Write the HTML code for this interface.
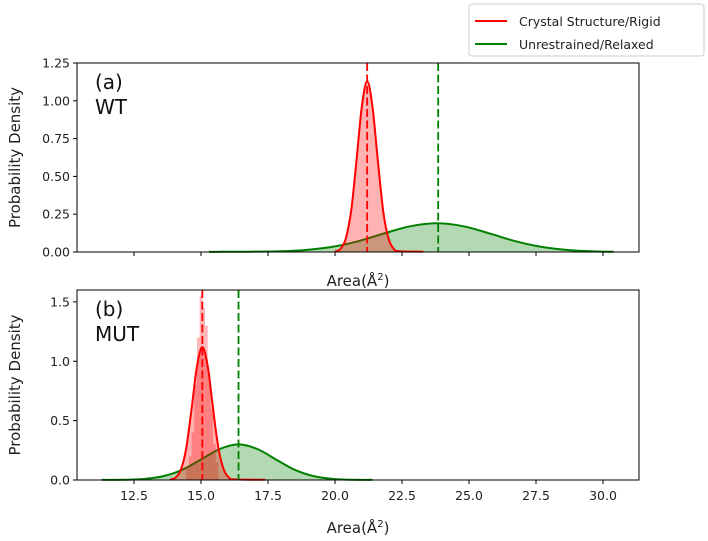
<!DOCTYPE html>
<html><head><meta charset="utf-8"><style>
body{margin:0;background:#fff;}
svg{display:block;font-family:"DejaVu Sans","Liberation Sans",sans-serif;}
</style></head><body>
<svg id="chart" width="708" height="541" viewBox="0 0 708 541"></svg>
<script>
// ---- data ----
const wtRedX = [20.0,20.2,20.4,20.6,20.8,21.0,21.2,21.4,21.6,21.8,22.0,22.2,22.4,23.3];
const wtRedY = [0.003,0.02,0.087,0.27,0.6,0.96,1.13,0.96,0.6,0.27,0.087,0.02,0.005,0.002];
const wtGreenX = [15.3,15.8,16.8,17.8,18.8,19.8,20.8,21.8,22.8,23.8,24.8,25.8,26.8,27.8,28.8,29.8,30.4];
const wtGreenY = [0.001,0.001,0.002,0.004,0.012,0.031,0.068,0.121,0.170,0.19,0.17,0.121,0.068,0.031,0.011,0.003,0.001];
const wtMeans = [21.2, 23.85];
const mutRedX = [13.85,14.05,14.25,14.45,14.65,14.85,15.05,15.25,15.45,15.65,15.85,16.05,16.25,17.4];
const mutRedY = [0.003,0.02,0.087,0.27,0.6,0.96,1.12,0.96,0.6,0.27,0.087,0.02,0.005,0.002];
const mutGreenX = [11.3,12.2,12.9,13.6,14.3,15.0,15.7,16.4,17.1,17.8,18.5,19.2,19.9,20.6,21.4];
const mutGreenY = [0.001,0.002,0.009,0.033,0.086,0.173,0.261,0.30,0.261,0.173,0.086,0.033,0.009,0.002,0.001];
const mutMeans = [15.05, 16.4];
const mutHistX = [14.5,14.6,14.7,14.8,14.9,15.0,15.1,15.2,15.3,15.4,15.5,15.6];
const mutHistY = [0.1,0.2,0.4,0.8,1.2,1.55,1.45,1.3,0.9,0.6,0.3,0.15];
const xTicks = [12.5,15.0,17.5,20.0,22.5,25.0,27.5,30.0];
const xTickLabels = ["12.5","15.0","17.5","20.0","22.5","25.0","27.5","30.0"];
const wtYTicks = [0,0.25,0.5,0.75,1.0,1.25];
const wtYLabels = ["0.00","0.25","0.50","0.75","1.00","1.25"];
const mutYTicks = [0,0.5,1.0,1.5];
const mutYLabels = ["0.0","0.5","1.0","1.5"];

const NS="http://www.w3.org/2000/svg";
const svg=document.getElementById('chart');
function mk(tag,attrs,parent){const e=document.createElementNS(NS,tag);for(const k in attrs)e.setAttribute(k,attrs[k]);(parent||svg).appendChild(e);return e;}
const L=77,R=639;
const xs=v=>134+(v-12.5)*(603-134)/17.5;
function smooth(pts){
  let d='M'+pts[0][0].toFixed(1)+','+pts[0][1].toFixed(1);
  for(let i=0;i<pts.length-1;i++){
    const p0=pts[Math.max(0,i-1)],p1=pts[i],p2=pts[i+1],p3=pts[Math.min(pts.length-1,i+2)];
    const c1x=p1[0]+(p2[0]-p0[0])/6,c1y=p1[1]+(p2[1]-p0[1])/6;
    const c2x=p2[0]-(p3[0]-p1[0])/6,c2y=p2[1]-(p3[1]-p1[1])/6;
    d+=` C${c1x.toFixed(1)},${c1y.toFixed(1)} ${c2x.toFixed(1)},${c2y.toFixed(1)} ${p2[0].toFixed(1)},${p2[1].toFixed(1)}`;
  }
  return d;
}

function panel(name,top,bot,ymax,yT,yL,red,green,means,label1,label2,hist,showXLabels){
  const ys=v=>bot-v*(bot-top)/ymax;
  const g=mk('g',{});
  
  
  if(hist){
    hist[0].forEach((x,i)=>{const r=mk('rect',{x:xs(x-0.05),y:ys(hist[1][i]),width:xs(0.1)-xs(0),height:bot-ys(hist[1][i]),fill:'rgba(255,0,0,0.28)'},g);
      
      });
  }
  [[green,'#008000','rgba(0,128,0,0.3)','green-density'],[red,'#ff0000','rgba(255,0,0,0.3)','red-density']].forEach(([d,c,f,n])=>{
    const p=smooth(d[0].map((x,i)=>[xs(x),ys(d[1][i])]));
    const area=mk('path',{d:p+' L'+xs(d[0][d[0].length-1])+','+bot+' L'+xs(d[0][0])+','+bot+'Z',fill:f,stroke:'none'},g);
    
    
    const ln=mk('path',{d:p,fill:'none',stroke:c,'stroke-width':2},g);
    
    
  });
  [['#ff0000',means[0],'red-mean-line'],['#008000',means[1],'green-mean-line']].forEach(([c,m,n])=>{
    const l=mk('line',{x1:xs(m),x2:xs(m),y1:top,y2:bot,stroke:c,'stroke-width':1.8,'stroke-dasharray':'8,3.5'},g);
    
    
  });
  const fr=mk('rect',{x:L,y:top,width:R-L,height:bot-top,fill:'none',stroke:'#000','stroke-width':1},g);
  
  
  yT.forEach((v,i)=>{mk('line',{x1:L-4,x2:L,y1:ys(v),y2:ys(v),stroke:'#000'},g);
    const t=mk('text',{x:L-7,y:ys(v)+4.5,'text-anchor':'end','font-size':12.5,fill:'#222'},g);t.textContent=yL[i];
    
    });
  xTicks.forEach((v,i)=>{mk('line',{x1:xs(v),x2:xs(v),y1:bot,y2:bot+4,stroke:'#000'},g);
    if(showXLabels){const t=mk('text',{x:xs(v),y:bot+20,'text-anchor':'middle','font-size':12.5,fill:'#222'},g);t.textContent=xTickLabels[i];
    
    }});
  const yl=mk('text',{x:0,y:0,transform:`translate(20,${(top+bot)/2}) rotate(-90)`,'text-anchor':'middle','font-size':15,fill:'#222'},g);
  yl.textContent='Probability Density';
  
  
  const a1=mk('text',{x:95,y:top+26,'font-size':20,fill:'#111'},g);a1.textContent=label1;
  
  
  const a2=mk('text',{x:95,y:top+51,'font-size':20,fill:'#111'},g);a2.textContent=label2;
  
  
  const xl=mk('text',{x:358,y:showXLabels?bot+53:bot+34,'text-anchor':'middle','font-size':15,fill:'#222'},g);
  xl.innerHTML='Area(Å<tspan dy="-6" font-size="10">2</tspan><tspan dy="6">)</tspan>';
  
  
}
panel('panel-wt',63,252,1.25,wtYTicks,wtYLabels,[wtRedX,wtRedY],[wtGreenX,wtGreenY],wtMeans,'(a)','WT',null,false);
panel('panel-mut',290,480,1.6,mutYTicks,mutYLabels,[mutRedX,mutRedY],[mutGreenX,mutGreenY],mutMeans,'(b)','MUT',[mutHistX,mutHistY],true);

// legend
const lg=mk('g',{});


mk('rect',{x:469,y:4,width:235,height:52,rx:3,fill:'#fff',stroke:'#ccc'},lg);
[['#ff0000','Crystal Structure/Rigid',22],['#008000','Unrestrained/Relaxed',45]].forEach(([c,t,y])=>{
  mk('line',{x1:475,x2:507,y1:y-1,y2:y-1,stroke:c,'stroke-width':2},lg);
  const tx=mk('text',{x:519,y:y+4,'font-size':12.5,fill:'#222'},lg);tx.textContent=t;
  
  
});
</script>
</body></html>
